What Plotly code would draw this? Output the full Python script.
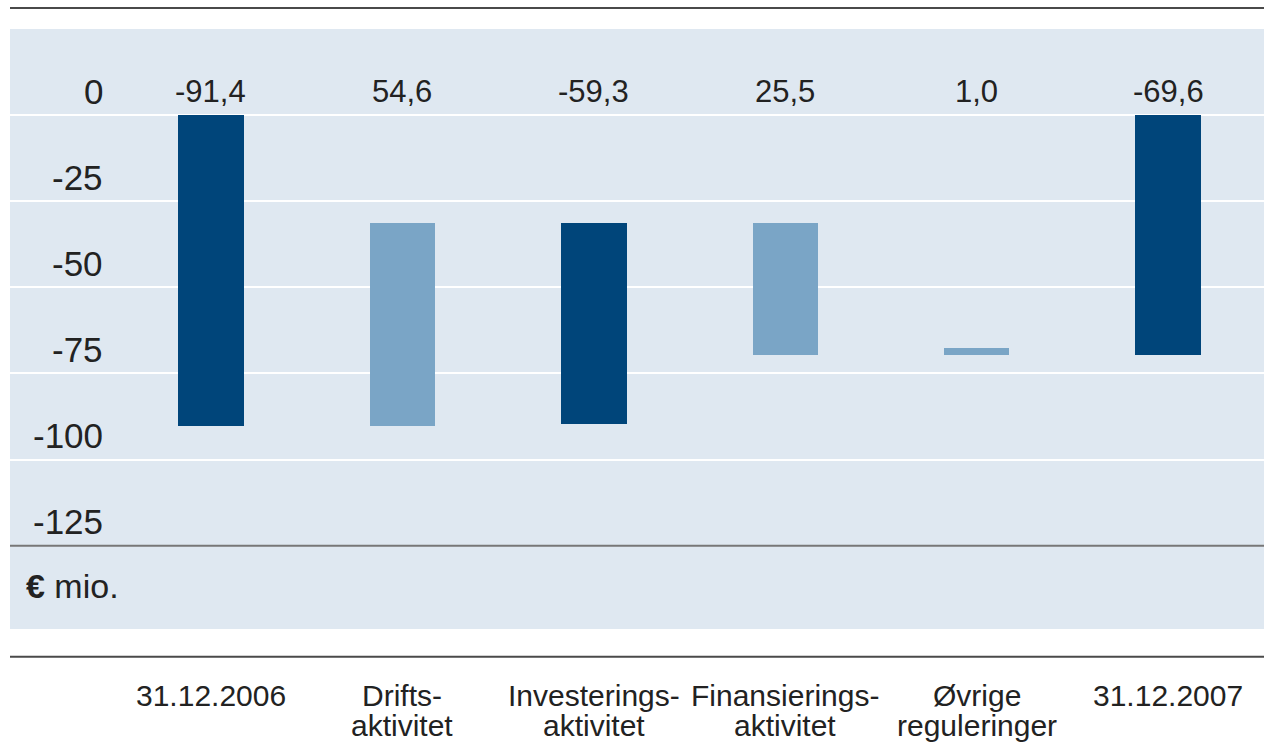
import plotly.graph_objects as go

# ---- data ----
categories = ["31.12.2006", "Drifts-\naktivitet", "Investerings-\naktivitet",
              "Finansierings-\naktivitet", "Øvrige\nreguleringer", "31.12.2007"]
value_labels = ["-91,4", "54,6", "-59,3", "25,5", "1,0", "-69,6"]
bar_top = [0, -31.3, -31.3, -31.3, -67.6, 0]
bar_bottom = [-90.2, -90.2, -89.8, -69.7, -69.7, -69.7]
bar_kind = ["total", "up", "down", "up", "up", "total"]
y_ticks = [0, -25, -50, -75, -100, -125]
y_ticklabels = ["0", "-25", "-50", "-75", "-100", "-125"]
unit_label = "€ mio."

DARK = "#00457A"
LIGHT = "#7AA5C6"
BG = "#DFE8F1"
TXT = "#222222"
FONT = "Liberation Sans, Arial, sans-serif"

colors = [LIGHT if k == "up" else DARK for k in bar_kind]
heights = [t - b for t, b in zip(bar_top, bar_bottom)]
xs = list(range(len(categories)))

fig = go.Figure()
fig.add_trace(go.Bar(
    x=xs, y=heights, base=bar_bottom, width=0.342,
    marker=dict(color=colors, line=dict(width=0)),
    hoverinfo="skip", showlegend=False,
))

annotations = []
# value labels above bars
for x, lab in zip(xs, value_labels):
    annotations.append(dict(x=x, y=0, xref="x", yref="y", text=lab, showarrow=False,
                            yshift=24, xanchor="center", yanchor="middle",
                            font=dict(size=31, color=TXT, family=FONT)))
# y tick labels (sit above their gridlines)
for v, t in zip(y_ticks, y_ticklabels):
    annotations.append(dict(x=0.0755, y=v, xref="paper", yref="y", text=t, showarrow=False,
                            yshift=24, xanchor="right", yanchor="middle",
                            font=dict(size=35, color=TXT, family=FONT)))
# unit
annotations.append(dict(x=0.011, y=-136.7, xref="paper", yref="y",
                        text="<b>€</b>" + unit_label[1:], showarrow=False,
                        xanchor="left", yanchor="middle",
                        font=dict(size=34, color=TXT, family=FONT)))
# category labels (two rows)
for x, c in zip(xs, categories):
    parts = c.split("\n")
    for i, p in enumerate(parts):
        annotations.append(dict(x=x, y=[-0.1100, -0.1600][i], xref="x", yref="paper",
                                text=p, showarrow=False, xanchor="center", yanchor="middle",
                                font=dict(size=30, color=TXT, family=FONT)))

shapes = [
    # dark baseline at -125
    dict(type="line", xref="paper", yref="y", x0=0, x1=1, y0=-125, y1=-125,
         line=dict(color="#777777", width=2), layer="above"),
    # top rule
    dict(type="line", xref="paper", yref="paper", x0=0, x1=1, y0=1.035, y1=1.035,
         line=dict(color="#4a4a4a", width=2)),
    # bottom rule
    dict(type="line", xref="paper", yref="paper", x0=0, x1=1, y0=-0.0464, y1=-0.0464,
         line=dict(color="#4a4a4a", width=2)),
]

fig.update_layout(
    width=1264, height=742,
    margin=dict(l=10, r=0, t=29, b=113),
    paper_bgcolor="white", plot_bgcolor=BG,
    xaxis=dict(range=[-1.05, 5.501], showticklabels=False, showgrid=False,
               zeroline=False, ticks="", fixedrange=True),
    yaxis=dict(range=[-149.2, 25], tickvals=y_ticks[:-1], showticklabels=False,
               showgrid=True, gridcolor="white", gridwidth=2, zeroline=False,
               ticks="", fixedrange=True),
    annotations=annotations, shapes=shapes,
    bargap=0,
)

fig.write_html(
    "out.html",
    config={"displayModeBar": False},
    post_script="document.body.style.margin='0';document.body.style.overflow='hidden';",
)
